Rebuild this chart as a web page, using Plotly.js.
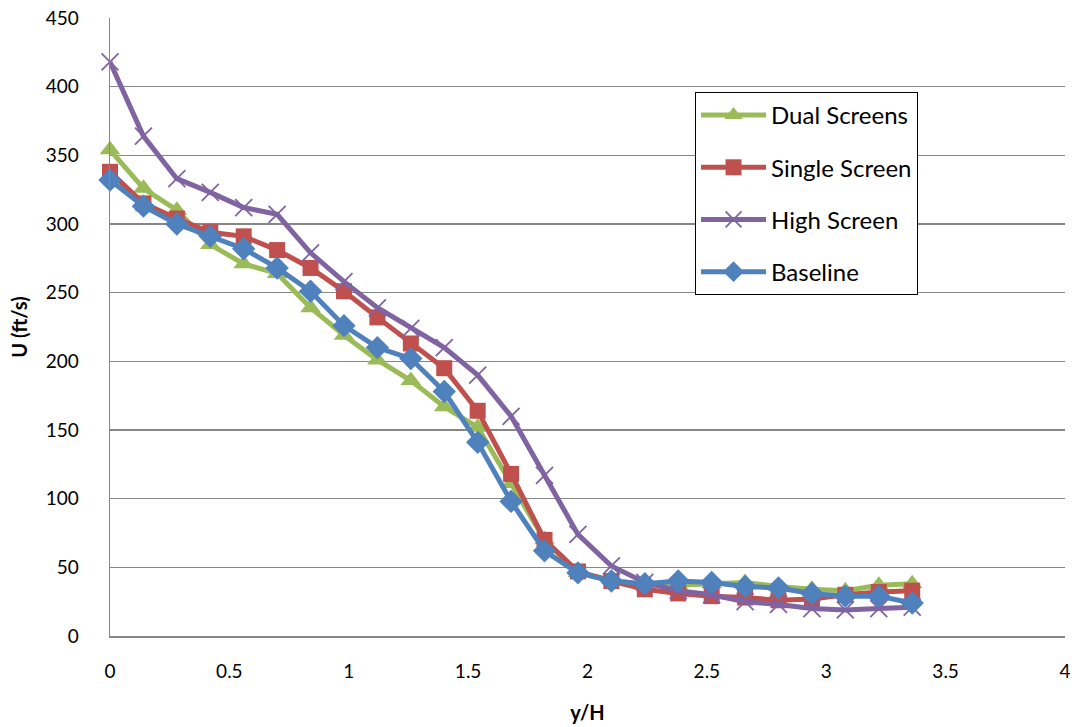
<!DOCTYPE html>
<html>
<head>
<meta charset="utf-8">
<script src="https://cdn.plot.ly/plotly-3.0.1.min.js"></script>
<style>html,body{margin:0;padding:0;background:#fff;}#chart{width:1075px;height:727px;}</style>
</head>
<body>
<div id="chart"></div>
<script>
const yH = [0, 0.14, 0.28, 0.42, 0.56, 0.70, 0.84, 0.98, 1.12, 1.26, 1.40, 1.54, 1.68, 1.82, 1.96, 2.10, 2.24, 2.38, 2.52, 2.66, 2.80, 2.94, 3.08, 3.22, 3.36];
const dualScreens = [354, 326, 310, 285, 271, 264, 239, 219, 201, 186, 167, 152, 111, 70, 46, 41, 37, 37, 38, 39, 36, 34, 33, 37, 38];
const singleScreen = [338, 315, 304, 294, 291, 281, 268, 251, 232, 213, 195, 164, 118, 70, 47, 40, 34, 31, 29, 28, 26, 27, 30, 32, 33];
const highScreen = [418, 364, 333, 323, 312, 307, 279, 258, 239, 224, 210, 190, 160, 117, 74, 51, 39, 33, 30, 25, 23, 20, 19, 20, 21];
const baseline = [332, 313, 300, 291, 282, 268, 251, 226, 210, 202, 178, 141, 98, 62, 46, 40, 38, 40, 39, 36, 35, 31, 29, 29, 24];
const seriesNames = ["Dual Screens", "Single Screen", "High Screen", "Baseline"];
const xTicks = [0, 0.5, 1, 1.5, 2, 2.5, 3, 3.5, 4];
const xTickText = ["0", "0.5", "1", "1.5", "2", "2.5", "3", "3.5", "4"];
const yTicks = [0, 50, 100, 150, 200, 250, 300, 350, 400, 450];

const FONT = "Lato, 'Open Sans', sans-serif";
const traces = [
  {y: dualScreens, name: seriesNames[0], color: "#9BBB59", symbol: "triangle-up", size: 18, lw: 0},
  {y: singleScreen, name: seriesNames[1], color: "#C0504D", symbol: "square", size: 16, lw: 0},
  {y: highScreen, name: seriesNames[2], color: "#8064A2", symbol: "x-thin-open", size: 17, lw: 1.8},
  {y: baseline, name: seriesNames[3], color: "#4F81BD", symbol: "diamond", size: 18, lw: 0}
].map((s, i) => ({
  x: yH, y: s.y, name: s.name, type: "scatter", mode: "lines+markers",
  cliponaxis: false, legendgroup: "g" + i,
  line: {color: s.color, width: 5},
  marker: {symbol: s.symbol, size: s.size, color: s.color, line: {color: s.color, width: s.lw}}
}));

const layout = {
  width: 1075, height: 727,
  margin: {l: 110, r: 10, t: 18, b: 91},
  paper_bgcolor: "#fff", plot_bgcolor: "#fff",
  font: {family: FONT, size: 19, color: "#000"},
  showlegend: true,
  legend: {
    x: 0.6126, y: 0.8803, xanchor: "left", yanchor: "top",
    bordercolor: "#000", borderwidth: 1, bgcolor: "#fff",
    font: {family: FONT, size: 24, color: "#000"},
    traceorder: "grouped", tracegroupgap: 18,
    itemwidth: 65
  },
  xaxis: {
    range: [0, 4], tickvals: xTicks, ticktext: xTickText,
    showgrid: false, zeroline: false, showline: true, linecolor: "#868686", linewidth: 1.5,
    ticks: "", ticklabelstandoff: 18,
    tickfont: {family: FONT, size: 19, color: "#000"},
    title: {text: "<b>y/H</b>", font: {family: FONT, size: 20, color: "#000"}, standoff: 24}
  },
  yaxis: {
    range: [0, 450], tickvals: yTicks,
    showgrid: true, gridcolor: "#868686", gridwidth: 1.5,
    zeroline: false, showline: true, linecolor: "#868686", linewidth: 1.5,
    ticks: "", ticklabelstandoff: 26,
    tickfont: {family: FONT, size: 19, color: "#000"},
    title: {text: "<b>U (ft/s)</b>", font: {family: FONT, size: 20, color: "#000"}, standoff: 12}
  }
};

Plotly.newPlot("chart", traces, layout, {displayModeBar: false, staticPlot: true});
</script>
</body>
</html>
